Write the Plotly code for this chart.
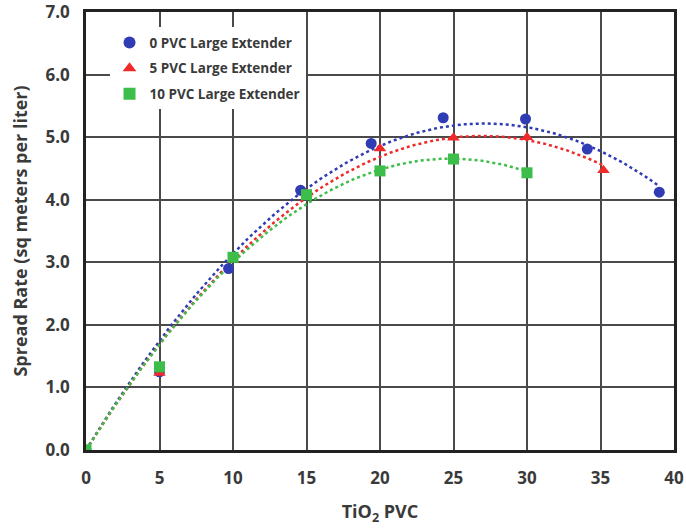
import numpy as np
import plotly.graph_objects as go

# Data
x0 = [0, 5, 9.7, 14.6, 19.4, 24.3, 29.9, 34.1, 39.0]
y0 = [0, 1.25, 2.90, 4.15, 4.90, 5.31, 5.29, 4.81, 4.12]
x5 = [0, 5, 10, 15, 20, 25, 30, 35.2]
y5 = [0, 1.23, 3.05, 4.10, 4.82, 4.99, 5.00, 4.47]
x10 = [0, 5, 10, 15, 20, 25, 30]
y10 = [0, 1.33, 3.08, 4.08, 4.46, 4.65, 4.43]

names = ["0 PVC Large Extender", "5 PVC Large Extender", "10 PVC Large Extender"]
colors = ["#2f3cb4", "#ee2a2a", "#3dbd4a"]
symbols = ["circle", "triangle-up", "square"]
xticks = [0, 5, 10, 15, 20, 25, 30, 35, 40]
yticks = [0, 1, 2, 3, 4, 5, 6, 7]

FONT = "Open Sans"
TXT = "#3a3a3a"

fig = go.Figure()

series = [(x0, y0), (x5, y5), (x10, y10)]
# polynomial (2nd order) trendlines with zero intercept
for (xs, ys), c in zip(series, colors):
    xa = np.array(xs, float)
    ya = np.array(ys, float)
    A = np.vstack([xa, xa ** 2]).T
    coef, *_ = np.linalg.lstsq(A, ya, rcond=None)
    xf = np.linspace(0, xa.max(), 200)
    yf = coef[0] * xf + coef[1] * xf ** 2
    fig.add_trace(go.Scatter(x=xf, y=yf, mode="lines",
                             line=dict(color=c, width=2.5, dash="dot"),
                             showlegend=False, hoverinfo="skip"))

for i, ((xs, ys), c, s, n) in enumerate(zip(series, colors, symbols, names)):
    fig.add_trace(go.Scatter(x=xs, y=ys, mode="markers", name=n,
                             legendgroup=f"g{i}",
                             marker=dict(color=c, symbol=s, size=11,
                                         line=dict(width=0))))

axis_common = dict(
    showgrid=True, gridcolor="#4a4a4a", gridwidth=2,
    showline=True, linecolor="#222222", linewidth=2.5, mirror=True,
    zeroline=False, ticks="", automargin=False, ticklabeloverflow="allow",
    tickfont=dict(family=FONT, size=17, color=TXT, weight="bold"),
)

fig.update_layout(
    width=686, height=528,
    margin=dict(l=86, r=12, t=12, b=78),
    paper_bgcolor="white", plot_bgcolor="white",
    font=dict(family=FONT, color=TXT),
    xaxis=dict(range=[0, 40], tickvals=xticks,
               ticktext=[str(v) for v in xticks],
               ticklabelstandoff=11,
               title=dict(text="TiO<sub>2</sub> PVC", standoff=18,
                          font=dict(family=FONT, size=18, color=TXT, weight="bold")),
               **axis_common),
    yaxis=dict(range=[0, 7], tickvals=yticks,
               ticktext=[f"{v:.1f}" for v in yticks],
               ticklabelstandoff=10,
               title=dict(text="Spread Rate (sq meters per liter)", standoff=14,
                          font=dict(family=FONT, size=18, color=TXT, weight="bold")),
               **axis_common),
    legend=dict(x=0.04, y=0.965, xanchor="left", yanchor="top",
                bgcolor="white", borderwidth=0,
                font=dict(family=FONT, size=13.5, color=TXT, weight="bold"),
                itemsizing="constant", itemwidth=30, tracegroupgap=5),
    showlegend=True,
)

fig.write_html("out.html", config={"displayModeBar": False},
               post_script="document.body.style.margin='0px';")
